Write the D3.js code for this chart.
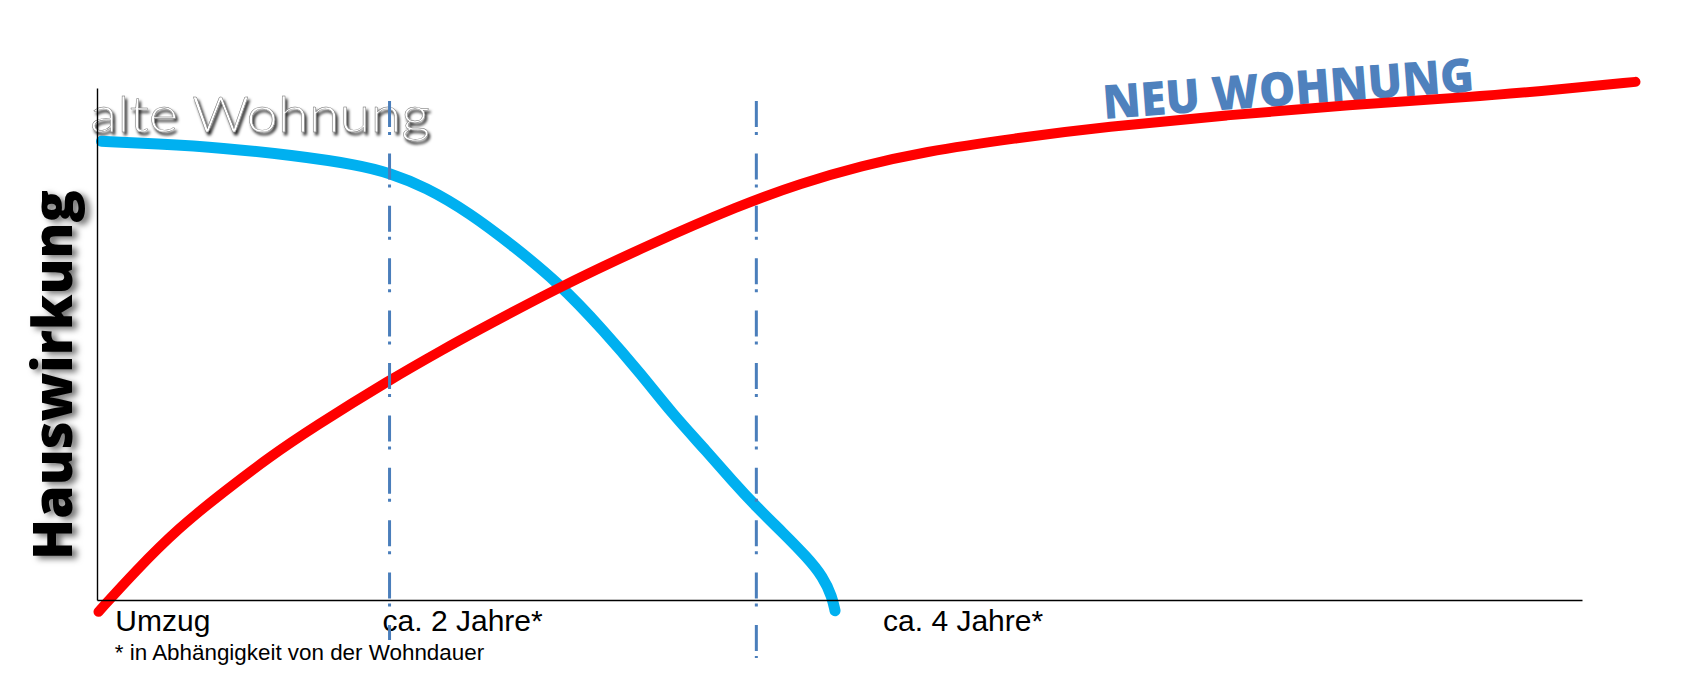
<!DOCTYPE html>
<html>
<head>
<meta charset="utf-8">
<script src="https://cdn.jsdelivr.net/npm/d3@7"></script>
<style>
  html, body { margin: 0; padding: 0; background: #fff; }
  svg { display: block; }
</style>
</head>
<body>
<svg id="chart" width="1695" height="690"></svg>
<script>
// ---- data (abstract time units 0..100, effect units 0..100) ----
const altX = [0.3, 4.0, 8.5, 13.1, 17.6, 19.7, 22.1, 25.1, 28.1, 31.1, 34.1, 36.7, 38.7, 41.1, 42.8, 44.4, 46.2, 47.8, 48.9, 49.5, 49.7];
const altY = [89.6, 89.1, 88.3, 86.9, 85.0, 83.4, 80.7, 75.6, 69.0, 61.9, 52.7, 43.9, 36.5, 28.9, 23.2, 18.2, 13.1, 8.4, 4.5, 0.6, -2.1];
const neuX = [0.1, 2.6, 5.5, 8.6, 11.6, 14.5, 19.7, 23.6, 25.1, 31.1, 37.1, 43.3, 47.4, 51.5, 55.6, 61.8, 67.9, 76.1, 84.3, 92.5, 98.7, 103.6];
const neuY = [-2.3, 5.7, 14.1, 21.3, 27.9, 33.6, 43.0, 49.4, 51.8, 61.1, 69.3, 77.1, 81.4, 84.8, 87.5, 90.2, 92.4, 94.7, 96.7, 98.2, 99.8, 101.2];
const markerX = [19.7, 44.4];
const tickValues = [1.2, 19.2, 52.9];
const tickLabels = ["Umzug", "ca. 2 Jahre*", "ca. 4 Jahre*"];
const yTitle = "Hauswirkung";
const altLabel = "alte Wohnung";
const neuLabel = "NEU WOHNUNG";
const footnote = "* in Abhängigkeit von der Wohndauer";

const svg = d3.select("#chart");
const x = d3.scaleLinear().domain([0, 100]).range([97, 1582]);
const y = d3.scaleLinear().domain([0, 100]).range([600, 88]);

const defs = svg.append("defs");
const f1 = defs.append("filter").attr("id", "embossShadow")
  .attr("x", "-10%").attr("y", "-30%").attr("width", "130%").attr("height", "170%");
f1.append("feDropShadow").attr("dx", 2).attr("dy", 3).attr("stdDeviation", 1.4)
  .attr("flood-color", "#000").attr("flood-opacity", 0.9);
const f2 = defs.append("filter").attr("id", "blurShadow")
  .attr("x", "-30%").attr("y", "-10%").attr("width", "170%").attr("height", "130%");
f2.append("feDropShadow").attr("dx", 5).attr("dy", 3).attr("stdDeviation", 3)
  .attr("flood-color", "#000").attr("flood-opacity", 0.55);

// ---- y title ----
svg.append("g").attr("filter", "url(#blurShadow)")
  .append("text")
  .attr("transform", "translate(72,560) rotate(-90)")
  .attr("font-family", "'Open Sans', sans-serif")
  .attr("font-weight", 800)
  .attr("font-size", 54)
  .attr("textLength", 370)
  .attr("lengthAdjust", "spacingAndGlyphs")
  .attr("fill", "#000")
  .text(yTitle);

// ---- series labels ----
svg.append("text")
  .attr("x", 90).attr("y", 132)
  .attr("font-family", "Lato, sans-serif")
  .attr("font-weight", 300)
  .attr("font-size", 50)
  .attr("textLength", 340)
  .attr("lengthAdjust", "spacingAndGlyphs")
  .attr("fill", "#fff")
  .attr("stroke", "#666").attr("stroke-width", 0.4)
  .attr("filter", "url(#embossShadow)")
  .text(altLabel);

svg.append("text")
  .attr("transform", "translate(1104,119) rotate(-4.3)")
  .attr("font-family", "'Open Sans', sans-serif")
  .attr("font-weight", 800)
  .attr("font-size", 47)
  .attr("textLength", 372)
  .attr("lengthAdjust", "spacingAndGlyphs")
  .attr("fill", "#4f81bd")
  .text(neuLabel);

// ---- curves ----
const line = d3.line()
  .x(d => x(d[0])).y(d => y(d[1]))
  .curve(d3.curveBasis);

svg.append("path")
  .datum(altX.map((v, i) => [v, altY[i]]))
  .attr("d", line)
  .attr("fill", "none")
  .attr("stroke", "#00b0f0")
  .attr("stroke-width", 11)
  .attr("stroke-linecap", "round")
  .attr("stroke-linejoin", "round");

svg.append("path")
  .datum(neuX.map((v, i) => [v, neuY[i]]))
  .attr("d", line)
  .attr("fill", "none")
  .attr("stroke", "#ff0000")
  .attr("stroke-width", 10)
  .attr("stroke-linecap", "round")
  .attr("stroke-linejoin", "round");

// ---- axes ----
const xAxis = d3.axisBottom(x).tickValues(tickValues).tickSize(0).tickFormat((d, i) => tickLabels[i]);
const gx = svg.append("g").attr("transform", `translate(0,${y(0)})`).call(xAxis);
gx.select(".domain").attr("stroke", "#000").attr("stroke-width", 1.6);
gx.selectAll(".tick text")
  .attr("text-anchor", "start")
  .attr("y", 31).attr("dy", 0)
  .attr("font-family", "'Liberation Sans', Arial, sans-serif")
  .attr("font-size", 30)
  .attr("fill", "#000");

const yAxis = d3.axisLeft(y).tickValues([]).tickSize(0);
const gy = svg.append("g").attr("transform", `translate(${x(0)},0)`).call(yAxis);
gy.select(".domain").attr("stroke", "#000").attr("stroke-width", 1.4);

// ---- footnote ----
svg.append("text")
  .attr("x", x(tickValues[0])).attr("y", 660)
  .attr("font-family", "'Liberation Sans', Arial, sans-serif")
  .attr("font-size", 22.4)
  .attr("fill", "#000")
  .text(footnote);

// ---- dash-dot markers ----
const markerEnds = [640, 658];
svg.selectAll("line.marker")
  .data(markerX)
  .join("line")
  .attr("class", "marker")
  .attr("x1", d => x(d)).attr("x2", d => x(d))
  .attr("y1", 101)
  .attr("y2", (d, i) => markerEnds[i])
  .attr("stroke", "#4a7ebb")
  .attr("stroke-width", 3)
  .attr("stroke-dasharray", "26,5,3,18.4");
</script>
</body>
</html>
